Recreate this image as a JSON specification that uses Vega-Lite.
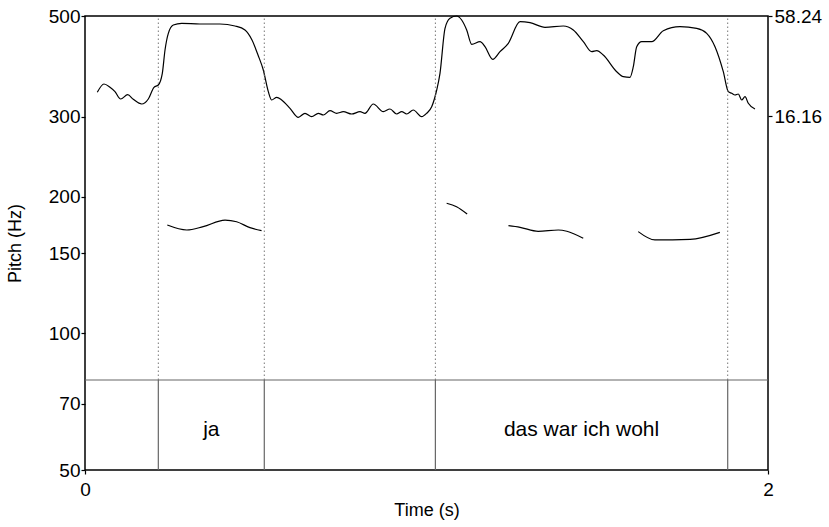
{
  "$schema": "https://vega.github.io/schema/vega-lite/v6.json",
  "width": 683,
  "height": 454,
  "autosize": "none",
  "padding": {"left": 85, "top": 16, "right": 61, "bottom": 57},
  "config": {
    "view": {"stroke": "black", "strokeWidth": 1.5},
    "font": "Liberation Sans",
    "axis": {
      "labelFont": "Liberation Sans",
      "labelFontSize": 19,
      "labelColor": "black",
      "titleFont": "Liberation Sans",
      "titleFontSize": 18,
      "titleFontWeight": "normal",
      "titleColor": "black",
      "tickColor": "black",
      "tickSize": 4,
      "tickWidth": 1.2,
      "domain": false,
      "grid": false
    }
  },
  "datasets": {
    "pitch": [
      {"seg": 1, "t": 0.241, "f": 173.2},
      {"seg": 1, "t": 0.298, "f": 168.9},
      {"seg": 1, "t": 0.346, "f": 171.8},
      {"seg": 1, "t": 0.410, "f": 177.6},
      {"seg": 1, "t": 0.444, "f": 176.1},
      {"seg": 1, "t": 0.483, "f": 170.9},
      {"seg": 1, "t": 0.517, "f": 168.3},
      {"seg": 2, "t": 1.059, "f": 193.4},
      {"seg": 2, "t": 1.088, "f": 190.1},
      {"seg": 2, "t": 1.119, "f": 183.2},
      {"seg": 3, "t": 1.240, "f": 172.6},
      {"seg": 3, "t": 1.274, "f": 171.2},
      {"seg": 3, "t": 1.327, "f": 167.8},
      {"seg": 3, "t": 1.386, "f": 168.9},
      {"seg": 3, "t": 1.411, "f": 167.8},
      {"seg": 3, "t": 1.459, "f": 161.9},
      {"seg": 4, "t": 1.620, "f": 167.5},
      {"seg": 4, "t": 1.669, "f": 160.6},
      {"seg": 4, "t": 1.772, "f": 161.1},
      {"seg": 4, "t": 1.859, "f": 166.9}
    ],
    "intensity": [
      {"t": 0.0360, "db": 26.13},
      {"t": 0.0556, "db": 29.63},
      {"t": 0.0732, "db": 28.24},
      {"t": 0.0878, "db": 26.39},
      {"t": 0.1045, "db": 23.31},
      {"t": 0.1250, "db": 25.12},
      {"t": 0.1414, "db": 23.19},
      {"t": 0.1660, "db": 21.21},
      {"t": 0.1854, "db": 23.31},
      {"t": 0.2020, "db": 28.24},
      {"t": 0.2146, "db": 29.20},
      {"t": 0.2264, "db": 34.13},
      {"t": 0.2343, "db": 43.93},
      {"t": 0.2440, "db": 50.96},
      {"t": 0.2586, "db": 54.45},
      {"t": 0.2832, "db": 55.17},
      {"t": 0.3367, "db": 54.87},
      {"t": 0.3953, "db": 54.87},
      {"t": 0.4392, "db": 54.03},
      {"t": 0.4685, "db": 52.35},
      {"t": 0.4890, "db": 48.14},
      {"t": 0.5066, "db": 41.83},
      {"t": 0.5221, "db": 35.52},
      {"t": 0.5368, "db": 26.39},
      {"t": 0.5467, "db": 22.89},
      {"t": 0.5614, "db": 24.03},
      {"t": 0.5760, "db": 22.89},
      {"t": 0.6003, "db": 19.40},
      {"t": 0.6246, "db": 15.61},
      {"t": 0.6442, "db": 17.30},
      {"t": 0.6638, "db": 15.87},
      {"t": 0.6832, "db": 17.30},
      {"t": 0.6978, "db": 16.58},
      {"t": 0.7174, "db": 18.39},
      {"t": 0.7370, "db": 17.30},
      {"t": 0.7564, "db": 17.97},
      {"t": 0.7810, "db": 17.00},
      {"t": 0.8053, "db": 17.97},
      {"t": 0.8199, "db": 17.30},
      {"t": 0.8442, "db": 21.21},
      {"t": 0.8735, "db": 17.97},
      {"t": 0.8931, "db": 19.11},
      {"t": 0.9127, "db": 17.00},
      {"t": 0.9274, "db": 17.97},
      {"t": 0.9420, "db": 17.00},
      {"t": 0.9613, "db": 18.68},
      {"t": 0.9859, "db": 15.87},
      {"t": 1.0006, "db": 17.30},
      {"t": 1.0152, "db": 20.07},
      {"t": 1.0299, "db": 27.10},
      {"t": 1.0395, "db": 34.13},
      {"t": 1.0542, "db": 53.06},
      {"t": 1.0688, "db": 57.27},
      {"t": 1.0884, "db": 58.24},
      {"t": 1.1030, "db": 56.56},
      {"t": 1.1177, "db": 52.35},
      {"t": 1.1324, "db": 46.33},
      {"t": 1.1567, "db": 47.43},
      {"t": 1.1713, "db": 45.32},
      {"t": 1.1939, "db": 40.02},
      {"t": 1.2152, "db": 43.22},
      {"t": 1.2396, "db": 46.75},
      {"t": 1.2738, "db": 55.84},
      {"t": 1.3031, "db": 55.42},
      {"t": 1.3470, "db": 53.48},
      {"t": 1.4006, "db": 54.03},
      {"t": 1.4299, "db": 52.35},
      {"t": 1.4592, "db": 47.43},
      {"t": 1.4837, "db": 43.22},
      {"t": 1.4984, "db": 43.64},
      {"t": 1.5177, "db": 41.83},
      {"t": 1.5570, "db": 34.80},
      {"t": 1.5763, "db": 32.70},
      {"t": 1.5959, "db": 32.44},
      {"t": 1.6056, "db": 36.91},
      {"t": 1.6155, "db": 45.32},
      {"t": 1.6302, "db": 47.43},
      {"t": 1.6595, "db": 47.43},
      {"t": 1.6934, "db": 52.05},
      {"t": 1.7423, "db": 53.74},
      {"t": 1.7912, "db": 53.06},
      {"t": 1.8205, "db": 50.96},
      {"t": 1.8448, "db": 45.32},
      {"t": 1.8691, "db": 34.80},
      {"t": 1.8838, "db": 26.39},
      {"t": 1.8937, "db": 25.71},
      {"t": 1.9034, "db": 25.00},
      {"t": 1.9130, "db": 25.42},
      {"t": 1.9230, "db": 22.89},
      {"t": 1.9327, "db": 24.28},
      {"t": 1.9423, "db": 21.50},
      {"t": 1.9619, "db": 19.11}
    ],
    "bounds": [
      {"t": 0.2147},
      {"t": 0.525},
      {"t": 1.026},
      {"t": 1.882}
    ],
    "intervals": [
      {"start": 0, "end": 0.2147, "mid": 0.1074, "text": ""},
      {"start": 0.2147, "end": 0.525, "mid": 0.3699, "text": "ja"},
      {"start": 0.525, "end": 1.026, "mid": 0.7755, "text": ""},
      {"start": 1.026, "end": 1.882, "mid": 1.454, "text": "das war ich wohl"},
      {"start": 1.882, "end": 2, "mid": 1.941, "text": ""}
    ]
  },
  "layer": [
    {
      "data": {"name": "pitch"},
      "mark": {"type": "line", "color": "black", "strokeWidth": 1.2, "interpolate": "monotone"},
      "encoding": {
        "x": {
          "field": "t", "type": "quantitative",
          "scale": {"domain": [0, 2], "nice": false},
          "axis": {"values": [0, 2], "format": "d", "title": "Time (s)", "labelPadding": 6, "titlePadding": 2, "labelFlush": false}
        },
        "y": {
          "field": "f", "type": "quantitative",
          "scale": {"type": "log", "domain": [50, 500], "nice": false},
          "axis": {"values": [50, 70, 100, 150, 200, 300, 500], "title": "Pitch (Hz)", "labelPadding": 1, "titlePadding": 24, "labelFlush": false}
        },
        "detail": {"field": "seg", "type": "nominal"}
      }
    },
    {
      "data": {"name": "intensity"},
      "mark": {"type": "line", "color": "black", "strokeWidth": 1.2, "interpolate": "monotone"},
      "encoding": {
        "x": {
          "field": "t", "type": "quantitative",
          "scale": {"domain": [0, 2], "nice": false},
          "axis": {"values": [0, 2], "format": "d", "title": "Time (s)", "labelPadding": 6, "titlePadding": 2, "labelFlush": false}
        },
        "y": {
          "field": "db", "type": "quantitative",
          "scale": {"domain": [-132.8, 58.24], "nice": false, "zero": false},
          "axis": {"orient": "right", "values": [16.16, 58.24], "format": ".2f", "title": null, "labelPadding": 2, "labelFlush": false}
        }
      }
    },
    {
      "layer": [
        {
          "data": {"name": "bounds"},
          "mark": {"type": "rule", "color": "#777777", "strokeWidth": 1, "strokeDash": [1.5, 2.5]},
          "encoding": {
            "x": {
              "field": "t", "type": "quantitative",
              "scale": {"domain": [0, 2], "nice": false},
              "axis": {"values": [0, 2], "format": "d", "title": "Time (s)", "labelPadding": 6, "titlePadding": 2, "labelFlush": false}
            },
            "y": {"datum": 1, "type": "quantitative", "scale": {"domain": [0, 5.045], "nice": false, "zero": false}, "axis": null},
            "y2": {"datum": 5.045}
          }
        },
        {
          "data": {"name": "bounds"},
          "mark": {"type": "rule", "color": "#666666", "strokeWidth": 1.2},
          "encoding": {
            "x": {"field": "t", "type": "quantitative", "title": "Time (s)"},
            "y": {"datum": 0, "type": "quantitative", "axis": null},
            "y2": {"datum": 1}
          }
        },
        {
          "data": {"name": "intervals"},
          "mark": {"type": "rule", "color": "#666666", "strokeWidth": 1.2},
          "encoding": {
            "x": {"field": "start", "type": "quantitative", "title": "Time (s)"},
            "x2": {"field": "end"},
            "y": {"datum": 1, "type": "quantitative", "axis": null}
          }
        },
        {
          "data": {"name": "intervals"},
          "mark": {"type": "text", "color": "black", "fontSize": 21, "font": "Liberation Sans", "baseline": "middle", "align": "center"},
          "encoding": {
            "x": {"field": "mid", "type": "quantitative", "title": "Time (s)"},
            "y": {"datum": 0.44, "type": "quantitative", "axis": null},
            "text": {"field": "text"}
          }
        }
      ]
    }
  ],
  "resolve": {"scale": {"y": "independent"}}
}
